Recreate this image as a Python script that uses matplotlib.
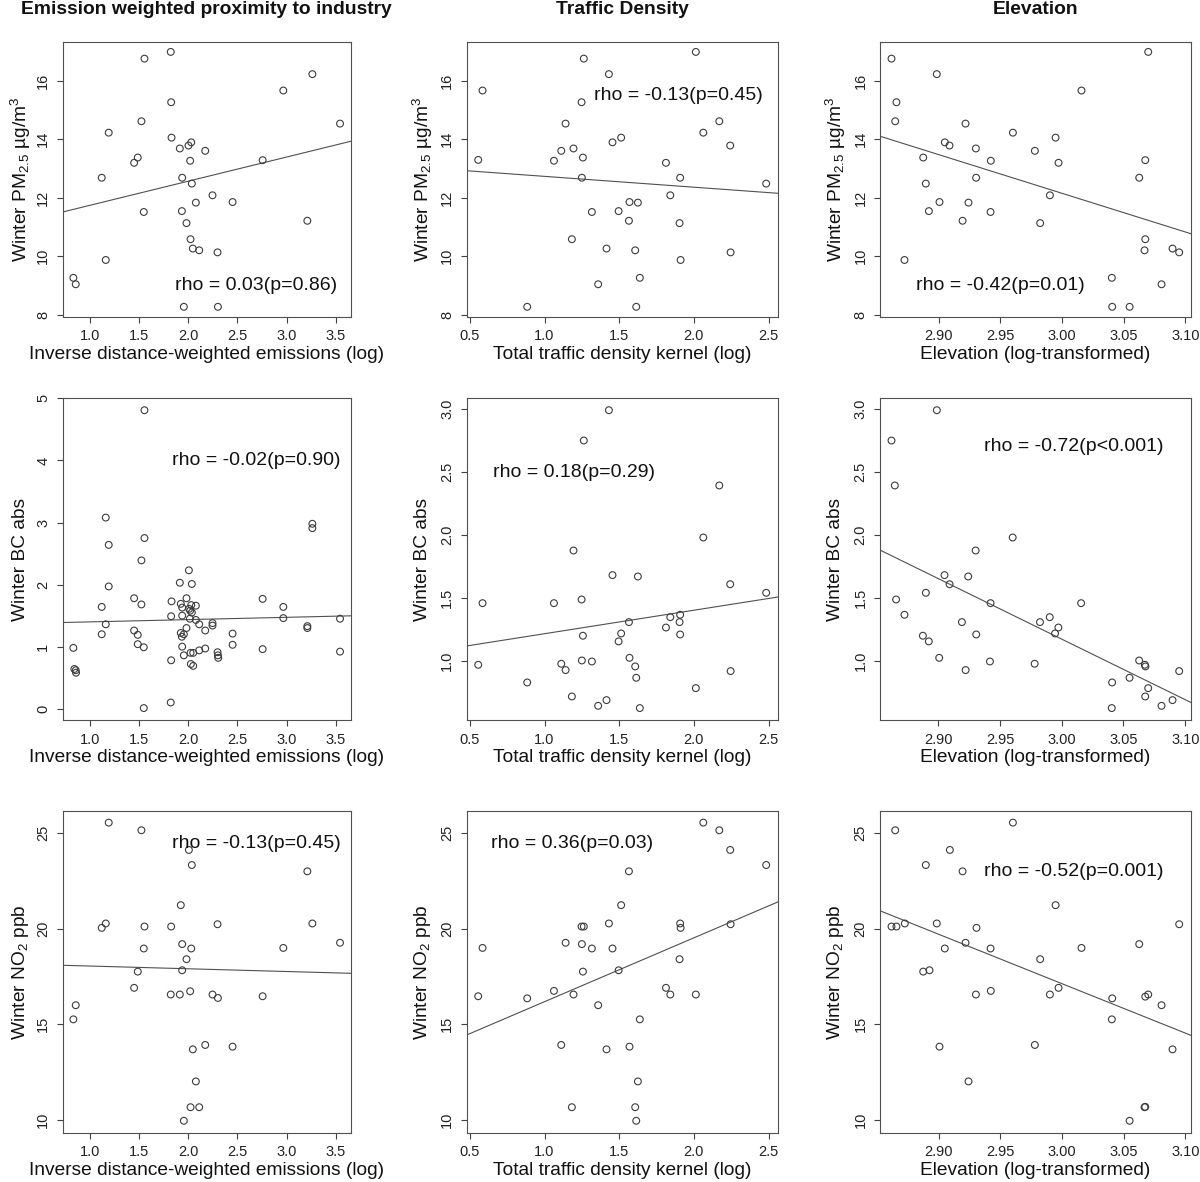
import matplotlib.pyplot as plt

plt.rcParams['font.family'] = ['Liberation Sans', 'DejaVu Sans']
plt.rcParams['mathtext.fontset'] = 'custom'
plt.rcParams['mathtext.rm'] = 'Liberation Sans'
plt.rcParams['mathtext.it'] = 'Liberation Sans:italic'

# column titles and axis labels
col_titles = ['Emission weighted proximity to industry', 'Traffic Density', 'Elevation']
x_labels = ['Inverse distance-weighted emissions (log)', 'Total traffic density kernel (log)',
            'Elevation (log-transformed)']
y_labels = [r'Winter PM$_{\mathrm{2.5}}$ µg/m$^{\mathrm{3}}$', 'Winter BC abs', r'Winter NO$_{\mathrm{2}}$ ppb']

# --- row 1: PM2.5 ---
ind_pm_x = [1.823, 1.556, 3.261, 2.966, 1.827, 1.525, 3.542, 1.193, 1.831, 2.031, 2.003, 1.915, 2.173, 1.488,
            1.451, 2.020, 2.756, 1.122, 1.939, 2.037, 2.247, 2.078, 2.451, 1.549, 1.936, 3.210, 1.983, 2.024,
            2.047, 2.112, 2.298, 1.163, 0.834, 0.858, 1.956, 2.302]
ind_pm_y = [16.98, 16.75, 16.22, 15.66, 15.26, 14.61, 14.53, 14.22, 14.05, 13.89, 13.78, 13.68, 13.60, 13.37,
            13.19, 13.26, 13.28, 12.68, 12.68, 12.48, 12.08, 11.83, 11.85, 11.51, 11.54, 11.21, 11.13, 10.58,
            10.26, 10.20, 10.13, 9.87, 9.26, 9.04, 8.27, 8.27]

tr_pm_x = [2.013, 1.263, 1.431, 0.585, 1.248, 2.170, 1.141, 2.063, 1.513, 1.455, 2.243, 1.194, 1.112, 1.257,
           0.556, 1.063, 1.813, 1.250, 1.908, 2.484, 1.842, 1.569, 1.625, 1.317, 1.496, 1.565, 1.904, 1.183,
           1.415, 1.607, 2.246, 1.911, 1.638, 1.359, 0.884, 1.614]
tr_pm_y = [16.98, 16.75, 16.22, 15.66, 15.26, 14.61, 14.53, 14.22, 14.05, 13.89, 13.78, 13.68, 13.60, 13.37,
           13.29, 13.26, 13.19, 12.68, 12.68, 12.48, 12.08, 11.85, 11.83, 11.51, 11.54, 11.21, 11.13, 10.58,
           10.26, 10.20, 10.13, 9.87, 9.26, 9.04, 8.27, 8.27]

el_pm_x = [3.0700, 2.8619, 2.8986, 3.0159, 2.8659, 2.8649, 2.9219, 2.9603, 2.9949, 2.9051, 2.9089, 2.9303,
           2.9781, 2.8876, 3.0676, 2.9424, 2.9973, 2.9305, 3.0627, 2.8897, 2.9903, 2.9008, 2.9243, 2.9422,
           2.8922, 2.9195, 2.9824, 3.0676, 3.0897, 3.0670, 3.0951, 2.8724, 3.0405, 3.0808, 3.0408, 3.0549]
el_pm_y = [16.98, 16.75, 16.22, 15.66, 15.26, 14.61, 14.53, 14.22, 14.05, 13.89, 13.78, 13.68, 13.60, 13.37,
           13.28, 13.26, 13.19, 12.68, 12.68, 12.48, 12.08, 11.85, 11.83, 11.51, 11.54, 11.21, 11.13, 10.58,
           10.26, 10.20, 10.13, 9.87, 9.26, 9.04, 8.27, 8.27]

# --- row 2: black carbon ---
ind_bc_x = [1.556, 1.163, 3.261, 3.261, 1.556, 1.193, 1.525, 2.007, 1.915, 2.037, 1.193, 1.451, 2.756, 1.983,
            1.831, 1.525, 1.925, 2.031, 2.078, 1.122, 2.966, 1.939, 2.010, 2.020, 2.037, 1.827, 1.939, 2.017,
            2.966, 3.542, 2.078, 1.163, 2.112, 2.247, 2.247, 3.210, 3.210, 1.983, 1.451, 2.173, 1.122, 1.488,
            1.925, 1.956, 1.936, 2.451, 1.488, 2.451, 1.939, 1.549, 0.834, 2.173, 2.756, 2.112, 3.542, 2.298,
            2.024, 2.051, 1.956, 2.302, 2.305, 1.827, 2.027, 2.051, 0.844, 0.858, 0.861, 1.823, 1.549]
ind_bc_y = [4.81, 3.08, 2.98, 2.91, 2.75, 2.64, 2.39, 2.23, 2.03, 2.01, 1.97, 1.78, 1.77, 1.78,
            1.73, 1.68, 1.69, 1.67, 1.66, 1.64, 1.64, 1.63, 1.61, 1.58, 1.55, 1.49, 1.50, 1.45,
            1.46, 1.45, 1.43, 1.36, 1.36, 1.38, 1.34, 1.33, 1.30, 1.30, 1.26, 1.26, 1.20, 1.19,
            1.22, 1.20, 1.16, 1.21, 1.04, 1.03, 1.00, 0.99, 0.98, 0.97, 0.96, 0.94, 0.92, 0.91,
            0.90, 0.90, 0.86, 0.86, 0.82, 0.78, 0.72, 0.69, 0.64, 0.62, 0.58, 0.10, 0.01]

tr_bc_x = [1.431, 1.263, 2.170, 2.063, 1.194, 1.455, 1.625, 2.243, 2.484, 1.248, 0.585, 1.063, 1.908, 1.842,
           1.565, 1.904, 1.813, 1.513, 1.908, 1.257, 1.496, 1.250, 1.317, 1.112, 0.556, 1.569, 1.607, 1.141,
           2.246, 1.614, 0.884, 2.013, 1.183, 1.415, 1.359, 1.638]
tr_bc_y = [2.987, 2.747, 2.391, 1.979, 1.876, 1.681, 1.670, 1.609, 1.541, 1.488, 1.459, 1.459, 1.367, 1.348,
           1.309, 1.309, 1.266, 1.219, 1.211, 1.201, 1.156, 1.005, 0.997, 0.979, 0.971, 1.026, 0.958, 0.929,
           0.921, 0.868, 0.831, 0.786, 0.720, 0.691, 0.646, 0.628]

el_bc_x = [2.8989, 2.8622, 2.8649, 2.9603, 2.9303, 2.9051, 2.9243, 2.9092, 2.8900, 2.8659, 3.0157, 2.9424,
           2.9903, 2.8727, 2.9192, 2.9824, 2.9973, 2.9946, 2.9308, 2.8876, 2.8924, 3.0627, 2.9419, 2.9008,
           2.9781, 3.0673, 3.0678, 2.9222, 3.0951, 3.0549, 3.0408, 3.0700, 3.0676, 3.0897, 3.0808, 3.0405]
el_bc_y = [2.987, 2.747, 2.391, 1.979, 1.876, 1.681, 1.670, 1.609, 1.541, 1.488, 1.459, 1.459,
           1.348, 1.367, 1.309, 1.309, 1.266, 1.219, 1.211, 1.201, 1.156, 1.005, 0.997, 1.026,
           0.979, 0.971, 0.958, 0.929, 0.921, 0.868, 0.831, 0.786, 0.720, 0.691, 0.646, 0.628]

# --- row 3: NO2 ---
ind_no2_x = [1.193, 1.525, 2.007, 2.037, 3.210, 1.925, 1.163, 1.122, 2.298, 3.261, 1.556, 1.827, 1.939, 3.542,
             1.549, 2.031, 2.966, 1.983, 1.488, 1.939, 1.451, 2.020, 1.823, 1.915, 2.247, 2.302, 2.756, 0.858,
             0.834, 2.173, 2.451, 2.047, 2.078, 2.024, 2.112, 1.956]
ind_no2_y = [25.56, 25.16, 24.13, 23.34, 23.01, 21.24, 20.28, 20.05, 20.24, 20.28, 20.12, 20.12, 19.20, 19.27,
             18.97, 18.97, 19.00, 18.41, 17.76, 17.83, 16.91, 16.73, 16.56, 16.56, 16.56, 16.38, 16.47, 16.00,
             15.26, 13.92, 13.83, 13.69, 12.01, 10.66, 10.66, 9.95]

tr_no2_x = [2.063, 2.170, 2.243, 2.484, 1.565, 1.513, 1.431, 1.908, 2.246, 1.248, 1.263, 1.911, 1.141, 1.250,
            0.585, 1.317, 1.455, 1.904, 1.257, 1.496, 1.813, 1.063, 1.194, 1.842, 2.013, 0.556, 0.884, 1.359,
            1.638, 1.112, 1.569, 1.415, 1.625, 1.183, 1.607, 1.614]
tr_no2_y = [25.56, 25.16, 24.13, 23.34, 23.01, 21.24, 20.28, 20.28, 20.24, 20.12, 20.12, 20.05, 19.27, 19.20,
            19.00, 18.97, 18.97, 18.41, 17.76, 17.83, 16.91, 16.75, 16.56, 16.56, 16.56, 16.47, 16.36, 16.00,
            15.26, 13.92, 13.83, 13.69, 12.01, 10.66, 10.66, 9.95]

el_no2_x = [2.9603, 2.8649, 2.9092, 2.8897, 2.9195, 2.9949, 2.8986, 3.0951, 2.8727, 2.8619, 2.8659, 2.9308,
            3.0627, 2.9219, 2.9051, 2.9422, 3.0159, 2.9824, 2.8876, 2.8927, 2.9973, 2.9424, 2.9303, 2.9903,
            3.0676, 3.0700, 3.0408, 3.0808, 3.0405, 2.9781, 2.9008, 3.0897, 2.9243, 3.0676, 3.0670, 3.0549]
el_no2_y = [25.56, 25.16, 24.13, 23.34, 23.01, 21.24, 20.28, 20.24, 20.28, 20.12, 20.12, 20.05,
            19.20, 19.27, 18.97, 18.97, 19.00, 18.41, 17.76, 17.83, 16.91, 16.75, 16.56, 16.56,
            16.45, 16.56, 16.36, 16.00, 15.26, 13.92, 13.83, 13.69, 12.01, 10.68, 10.66, 9.95]

# fitted lines (intercept, slope) and correlation labels
fits = [[(10.91, 0.826), (13.097, -0.370), (51.81, -13.22)],
        [(1.362, 0.0369), (1.031, 0.186), (15.562, -4.796)],
        [(18.195, -0.1434), (12.842, 3.343), (94.77, -25.88)]]
rho_text = [['rho = 0.03(p=0.86)', 'rho = -0.13(p=0.45)', 'rho = -0.42(p=0.01)'],
            ['rho = -0.02(p=0.90)', 'rho = 0.18(p=0.29)', 'rho = -0.72(p<0.001)'],
            ['rho = -0.13(p=0.45)', 'rho = 0.36(p=0.03)', 'rho = -0.52(p=0.001)']]
rho_pos = [[(0.671, 0.114), (0.681, 0.804), (0.388, 0.114)],
           [(0.671, 0.806), (0.346, 0.769), (0.624, 0.850)],
           [(0.671, 0.899), (0.338, 0.899), (0.624, 0.811)]]

xs = [[ind_pm_x, tr_pm_x, el_pm_x], [ind_bc_x, tr_bc_x, el_bc_x], [ind_no2_x, tr_no2_x, el_no2_x]]
ys = [[ind_pm_y, tr_pm_y, el_pm_y], [ind_bc_y, tr_bc_y, el_bc_y], [ind_no2_y, tr_no2_y, el_no2_y]]

x_ticks = [[1.0, 1.5, 2.0, 2.5, 3.0, 3.5], [0.5, 1.0, 1.5, 2.0, 2.5], [2.90, 2.95, 3.00, 3.05, 3.10]]
x_fmt = ['%.1f', '%.1f', '%.2f']
y_ticks = [[[8, 10, 12, 14, 16]] * 3,
           [[0, 1, 2, 3, 4, 5], [1.0, 1.5, 2.0, 2.5, 3.0], [1.0, 1.5, 2.0, 2.5, 3.0]],
           [[10, 15, 20, 25]] * 3]
y_fmt = [['%d'] * 3, ['%d', '%.1f', '%.1f'], ['%d'] * 3]

W, H = 1200, 1182
col_px = [(62.7, 350.7), (466.7, 777.7), (880.0, 1190.7)]
row_px = [(41.7, 317.0), (398.3, 720.0), (810.7, 1132.7)]
ylab_off = [42, 44, 44]

EDGE = '#3c3c3c'


def r_lims(v):
    lo, hi = min(v), max(v)
    pad = 0.04 * (hi - lo)
    return lo - pad, hi + pad


fig = plt.figure(figsize=(W / 100, H / 100), dpi=100)

for c in range(3):
    cx = (col_px[c][0] + col_px[c][1]) / 2
    fig.text(cx / W, 1 - 9 / H, col_titles[c], ha='center', va='center',
             fontsize=13.9, fontweight='bold', color='#111111')

for r in range(3):
    for c in range(3):
        x0, x1 = col_px[c]
        t0, t1 = row_px[r]
        wpx, hpx = x1 - x0, t1 - t0
        ax = fig.add_axes([x0 / W, 1 - t1 / H, wpx / W, hpx / H])
        x, y = xs[r][c], ys[r][c]
        ax.scatter(x, y, s=24, facecolors='none', edgecolors=EDGE, linewidths=0.8, zorder=3)
        ax.set_xlim(*r_lims(x))
        ax.set_ylim(*r_lims(y))
        a, b = fits[r][c]
        xm = sum(x) / len(x)
        ax.axline((xm, a + b * xm), slope=b, color='#505050', lw=0.8, zorder=2)

        ax.set_xticks(x_ticks[c])
        ax.set_xticklabels([x_fmt[c] % v for v in x_ticks[c]])
        ax.set_yticks(y_ticks[r][c])
        ax.set_yticklabels([y_fmt[r][c] % v for v in y_ticks[r][c]], rotation=90, va='center')
        ax.tick_params(direction='out', length=4, width=0.8, color='#404040',
                       labelsize=10.5, labelcolor='#222222', pad=5)
        for sp in ax.spines.values():
            sp.set_color('#505050')
            sp.set_linewidth(0.8)

        ax.set_xlabel(x_labels[c], fontsize=13.8, color='#111111', va='center')
        ax.xaxis.set_label_coords(0.5, -38 / hpx)
        ax.set_ylabel(y_labels[r], fontsize=13.8, color='#111111', va='center')
        ax.yaxis.set_label_coords(-ylab_off[c] / wpx, 0.5)

        px, py = rho_pos[r][c]
        ax.text(px, py, rho_text[r][c], transform=ax.transAxes, ha='center', va='center',
                fontsize=14, color='#111111')

fig.savefig('out.png', dpi=100)
